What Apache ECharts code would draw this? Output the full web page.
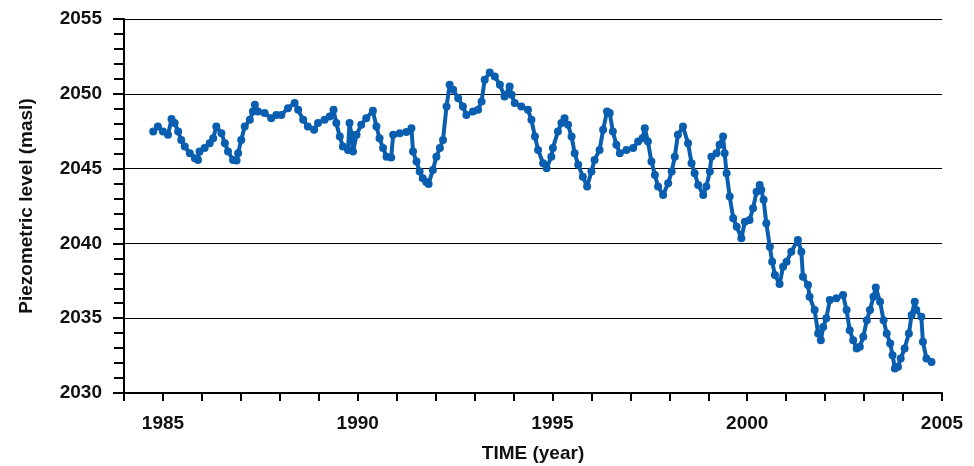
<!DOCTYPE html>
<html>
<head>
<meta charset="utf-8">
<script src="https://cdn.jsdelivr.net/npm/echarts@6/dist/echarts.min.js"></script>
<style>html,body{margin:0;padding:0;background:#fff}#c{width:974px;height:466px}</style>
</head>
<body>
<div id="c"></div>
<script>
var years = [
1984.75,1984.87,1985.00,1985.13,1985.22,1985.30,1985.39,1985.47,1985.56,1985.69,1985.82,1985.90,1985.94,
1986.07,1986.20,1986.29,1986.37,1986.50,1986.59,1986.67,1986.80,1986.89,1986.93,
1987.01,1987.10,1987.23,1987.31,1987.36,1987.44,1987.61,1987.78,1987.91,
1988.04,1988.21,1988.38,1988.47,1988.60,1988.72,1988.88,1988.98,
1989.15,1989.28,1989.38,1989.45,1989.54,1989.62,1989.75,1989.79,1989.84,1989.88,1989.97,
1990.09,1990.22,1990.39,1990.48,1990.56,1990.65,1990.74,1990.86,1990.91,
1991.08,1991.25,1991.38,1991.42,1991.51,1991.59,1991.67,1991.76,1991.82,1991.93,
1992.02,1992.11,1992.19,1992.28,1992.36,1992.45,1992.58,1992.70,1992.79,1992.96,
1993.09,1993.18,1993.26,1993.39,1993.52,1993.65,1993.77,1993.90,1993.95,
1994.03,1994.20,1994.37,1994.46,1994.55,1994.63,1994.76,1994.85,1994.97,
1995.01,1995.14,1995.23,1995.31,1995.40,1995.49,1995.57,1995.66,1995.78,1995.89,
1996.00,1996.08,1996.21,1996.30,1996.40,1996.47,1996.55,1996.64,1996.73,1996.90,
1997.07,1997.20,1997.31,1997.37,1997.45,1997.54,1997.63,1997.71,1997.84,1997.97,
1998.06,1998.14,1998.22,1998.35,1998.48,1998.57,1998.65,1998.74,1998.87,1998.95,
1999.04,1999.08,1999.21,1999.29,1999.38,1999.42,1999.47,1999.55,1999.64,1999.73,1999.85,1999.94,
2000.06,2000.15,2000.24,2000.32,2000.36,2000.42,2000.49,2000.58,2000.64,2000.71,2000.83,2000.92,
2001.01,2001.13,2001.30,2001.39,2001.43,2001.56,2001.60,2001.73,2001.82,2001.89,2001.95,
2002.03,2002.12,2002.29,2002.46,2002.55,2002.63,2002.72,2002.81,2002.89,2002.98,
2003.07,2003.15,2003.24,2003.30,2003.41,2003.50,2003.58,2003.67,2003.73,2003.79,2003.87,2003.94,
2004.04,2004.15,2004.22,2004.30,2004.34,2004.47,2004.51,2004.60,2004.73
];
var levels = [
2047.48,2047.81,2047.48,2047.26,2048.31,2048.04,2047.48,2046.92,2046.47,2046.03,2045.70,2045.58,2046.14,
2046.37,2046.70,2047.03,2047.81,2047.37,2046.70,2046.14,2045.58,2045.54,2046.03,
2046.92,2047.81,2048.26,2048.82,2049.26,2048.82,2048.71,2048.37,2048.59,
2048.59,2049.04,2049.38,2048.93,2048.26,2047.81,2047.59,2048.04,
2048.26,2048.48,2048.93,2048.04,2047.14,2046.47,2046.25,2048.04,2047.26,2046.14,2047.26,
2047.93,2048.37,2048.86,2047.81,2047.03,2046.37,2045.80,2045.74,2047.26,
2047.37,2047.44,2047.70,2046.14,2045.47,2044.80,2044.36,2044.10,2043.97,2044.91,
2045.80,2046.37,2046.92,2049.15,2050.60,2050.27,2049.71,2049.15,2048.59,2048.82,
2048.93,2049.48,2050.94,2051.43,2051.16,2050.60,2049.82,2050.49,2049.93,
2049.38,2049.15,2048.93,2048.26,2047.14,2046.25,2045.36,2045.03,2045.80,
2046.37,2047.48,2048.04,2048.37,2047.93,2047.14,2046.03,2045.25,2044.46,2043.80,
2044.80,2045.58,2046.25,2047.59,2048.82,2048.71,2047.48,2046.59,2046.03,2046.25,
2046.37,2046.81,2047.03,2047.70,2046.81,2045.47,2044.58,2043.80,2043.24,2044.02,
2044.80,2045.80,2047.26,2047.81,2046.70,2045.36,2044.69,2043.91,2043.24,2043.80,
2044.80,2045.80,2046.03,2046.59,2047.14,2046.03,2044.69,2043.13,2041.68,2041.12,2040.34,2041.45,
2041.57,2042.35,2043.46,2043.91,2043.57,2042.91,2041.35,2039.78,2038.78,2037.89,2037.28,2038.44,
2038.78,2039.44,2040.23,2039.44,2037.77,2037.22,2036.43,2035.54,2033.98,2033.53,2034.42,
2034.99,2036.21,2036.33,2036.55,2035.54,2034.20,2033.53,2032.98,2033.09,2033.76,
2034.87,2035.54,2036.43,2037.06,2036.10,2034.87,2033.98,2033.31,2032.53,2031.64,2031.75,2032.31,
2032.98,2033.98,2035.21,2036.10,2035.54,2035.09,2033.42,2032.31,2032.08
];
var xLabelYears = [1985, 1990, 1995, 2000, 2005];
var yLabelLevels = [2030, 2035, 2040, 2045, 2050, 2055];

var pts = years.map(function (y, i) { return [y, levels[i]]; });
var chart = echarts.init(document.getElementById('c'));
var FONT = '"Liberation Sans", Arial, sans-serif';
chart.setOption({
  animation: false,
  backgroundColor: '#fff',
  grid: { left: 124, right: 32, top: 19, bottom: 73, containLabel: false, outerBoundsMode: 'none' },
  xAxis: {
    type: 'value', min: 1984, max: 2005, interval: 1,
    name: 'TIME (year)', nameLocation: 'middle', nameGap: 51,
    nameTextStyle: { fontFamily: FONT, fontWeight: 'bold', fontSize: 19, color: '#111' },
    axisLine: { show: true, onZero: false, lineStyle: { color: '#000', width: 2 } },
    axisTick: { show: true, length: 8, lineStyle: { color: '#000', width: 2 } },
    splitLine: { show: false },
    axisLabel: {
      margin: 21, fontFamily: FONT, fontWeight: 'bold', fontSize: 19, color: '#111',
      formatter: function (v) { return xLabelYears.indexOf(Math.round(v)) >= 0 ? String(Math.round(v)) : ''; }
    }
  },
  yAxis: {
    type: 'value', min: 2030, max: 2055, interval: 5,
    name: 'Piezometric level (masl)', nameLocation: 'middle', nameGap: 88,
    nameTextStyle: { fontFamily: FONT, fontWeight: 'bold', fontSize: 19, color: '#111' },
    axisLine: { show: true, onZero: false, lineStyle: { color: '#000', width: 2 } },
    axisTick: { show: true, length: 11, lineStyle: { color: '#000', width: 2 } },
    minorTick: { show: true, splitNumber: 5, length: 10, lineStyle: { color: '#000', width: 2 } },
    splitLine: { show: true, lineStyle: { color: '#000', width: 1 } },
    axisLabel: {
      margin: 22, fontFamily: FONT, fontWeight: 'bold', fontSize: 19, color: '#111',
      formatter: function (v) { return yLabelLevels.indexOf(Math.round(v)) >= 0 ? String(Math.round(v)) : ''; }
    }
  },
  series: [{
    type: 'line', data: pts,
    symbol: 'circle', symbolSize: 8, showAllSymbol: true,
    lineStyle: { color: '#0a5eb0', width: 4 },
    itemStyle: { color: '#0a5eb0' }
  }]
});
</script>
</body>
</html>
